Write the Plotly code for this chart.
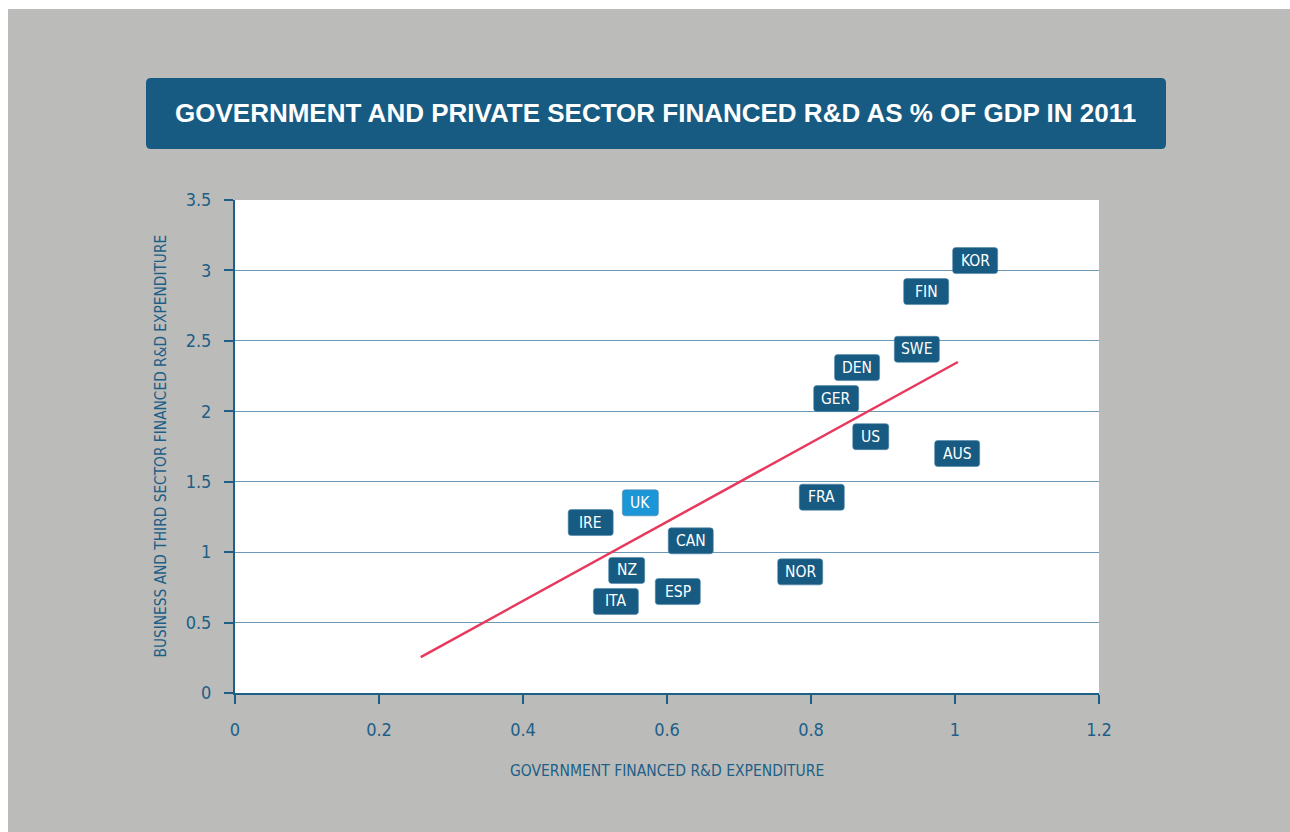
import plotly.graph_objects as go

# ---- data ----
countries = ["KOR", "FIN", "SWE", "DEN", "GER", "US", "AUS", "FRA",
             "UK", "IRE", "CAN", "NZ", "NOR", "ESP", "ITA"]
gov_rd = [1.028, 0.960, 0.947, 0.864, 0.835, 0.883, 1.003, 0.815,
          0.563, 0.494, 0.633, 0.544, 0.785, 0.615, 0.529]
private_rd = [3.07, 2.85, 2.44, 2.31, 2.09, 1.82, 1.70, 1.39,
              1.35, 1.21, 1.08, 0.87, 0.86, 0.72, 0.65]
trend_x = [0.258, 1.004]
trend_y = [0.255, 2.35]
x_ticks = [0, 0.2, 0.4, 0.6, 0.8, 1.0, 1.2]
x_tick_labels = ["0", "0.2", "0.4", "0.6", "0.8", "1", "1.2"]
y_ticks = [0, 0.5, 1, 1.5, 2, 2.5, 3, 3.5]
y_tick_labels = ["0", "0.5", "1", "1.5", "2", "2.5", "3", "3.5"]
highlight = "UK"

title = "GOVERNMENT AND PRIVATE SECTOR FINANCED R&amp;D AS % OF GDP IN 2011"
x_title = "GOVERNMENT FINANCED R&amp;D EXPENDITURE"
y_title = "BUSINESS AND THIRD SECTOR FINANCED R&amp;D EXPENDITURE"

# ---- style ----
W, H = 1290, 832
ML, MR, MT, MB = 235, 191, 200, 139
PW, PH = W - ML - MR, H - MT - MB
GREY = "#bbbbb9"
DARK = "#175b82"
LIGHT = "#1b96d6"
TXT = "#1d5f87"
RED = "#e8395d"
COND = "Liberation Sans Narrow, DejaVu Sans Condensed, Arial Narrow, sans-serif"


def px_x(p):
    return (p - ML) / PW


def px_y(p):
    return (H - MB - p) / PH


def rounded_path(w, h, r):
    a, b = w / 2, h / 2
    return (f"M {-a + r},{-b} L {a - r},{-b} Q {a},{-b} {a},{-b + r} "
            f"L {a},{b - r} Q {a},{b} {a - r},{b} L {-a + r},{b} "
            f"Q {-a},{b} {-a},{b - r} L {-a},{-b + r} Q {-a},{-b} {-a + r},{-b} Z")


fig = go.Figure()

fig.add_trace(go.Scatter(x=trend_x, y=trend_y, mode="lines",
                         line=dict(color=RED, width=2.5),
                         hoverinfo="skip", showlegend=False))
fig.add_trace(go.Scatter(x=gov_rd, y=private_rd, mode="markers",
                         marker=dict(size=1, opacity=0),
                         text=countries, hoverinfo="text", showlegend=False))

shapes = []
annotations = []

# white strips at page edge
shapes.append(dict(type="rect", xref="paper", yref="paper",
                   x0=px_x(0), x1=px_x(W), y0=px_y(9), y1=px_y(0),
                   fillcolor="white", line_width=0, layer="below"))
shapes.append(dict(type="rect", xref="paper", yref="paper",
                   x0=px_x(0), x1=px_x(8), y0=px_y(H), y1=px_y(0),
                   fillcolor="white", line_width=0, layer="below"))

# title box
shapes.append(dict(type="path", xref="paper", yref="paper",
                   xsizemode="pixel", ysizemode="pixel",
                   xanchor=px_x(656), yanchor=px_y(113.5),
                   path=rounded_path(1020, 71, 5),
                   fillcolor=DARK, line_width=0, layer="above"))
annotations.append(dict(text=f"<b>{title}</b>", xref="paper", yref="paper",
                        x=px_x(655), y=px_y(113), showarrow=False,
                        xanchor="center", yanchor="middle",
                        font=dict(family="Liberation Sans, Arial, sans-serif",
                                  size=26, color="white")))

# country labels
for c, x, y in zip(countries, gov_rd, private_rd):
    w = 18 + 9 * len(c)
    shapes.append(dict(type="path", xref="x", yref="y",
                       xsizemode="pixel", ysizemode="pixel",
                       xanchor=x, yanchor=y,
                       path=rounded_path(w, 26, 3),
                       fillcolor=LIGHT if c == highlight else DARK,
                       line=dict(color="#4f86ab", width=0.6), layer="above"))
    annotations.append(dict(text=c, x=x, y=y, xref="x", yref="y",
                            showarrow=False, xanchor="center", yanchor="middle",
                            font=dict(family=COND, size=15.5, color="white")))

# axis titles
annotations.append(dict(text=x_title, xref="paper", yref="paper",
                        x=px_x(667), y=px_y(771), showarrow=False,
                        xanchor="center", yanchor="middle",
                        font=dict(family=COND, size=15.5, color=TXT)))
annotations.append(dict(text=y_title, xref="paper", yref="paper",
                        x=px_x(160), y=px_y(446.5), showarrow=False,
                        textangle=-90, xanchor="center", yanchor="middle",
                        font=dict(family=COND, size=15.3, color=TXT)))

fig.update_layout(
    width=W, height=H,
    margin=dict(l=ML, r=MR, t=MT, b=MB, pad=0),
    paper_bgcolor=GREY, plot_bgcolor="white",
    showlegend=False,
    shapes=shapes, annotations=annotations,
    xaxis=dict(range=[0, 1.2], tickvals=x_ticks, ticktext=x_tick_labels,
               showgrid=False, zeroline=False,
               showline=True, linecolor=TXT, linewidth=2,
               ticks="outside", ticklen=9, tickwidth=2, tickcolor=TXT,
               ticklabelstandoff=10,
               tickfont=dict(family=COND, size=18, color=TXT)),
    yaxis=dict(range=[0, 3.5], tickvals=y_ticks, ticktext=y_tick_labels,
               showgrid=True, gridcolor="#6e98b8", gridwidth=1.2,
               zeroline=False,
               showline=True, linecolor=TXT, linewidth=2,
               ticks="outside", ticklen=9, tickwidth=2, tickcolor=TXT,
               ticklabelstandoff=9,
               tickfont=dict(family=COND, size=18, color=TXT)),
)

fig.write_html("out.html")
